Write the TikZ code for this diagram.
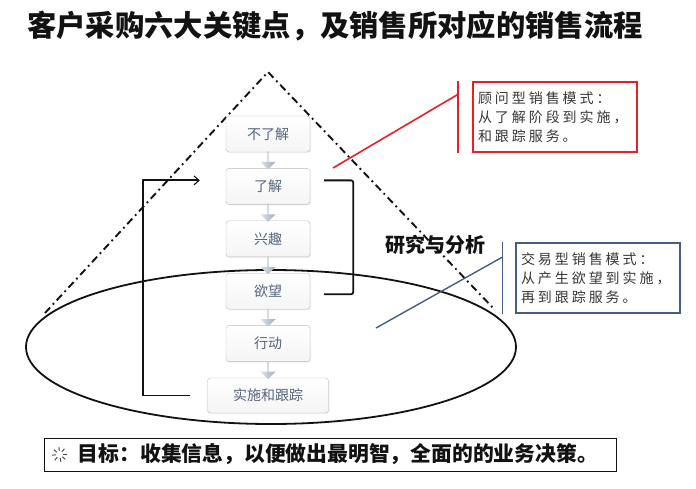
\documentclass[tikz,border=0pt]{standalone}
\usepackage{fontspec}
\setmainfont{Liberation Sans}
\newfontfamily\cjk{Noto Sans CJK SC}
\newfontfamily\cjkspaced[LetterSpace=21]{Noto Sans CJK SC}
\usepackage{tikz}
\usetikzlibrary{arrows.meta, positioning, shadows, shapes.arrows}
\usepackage{xcolor}
\definecolor{NoteRed}{RGB}{228, 32, 40}
\definecolor{NoteBlue}{RGB}{68, 94, 135}
\definecolor{StageText}{RGB}{84, 100, 128}
\definecolor{StageEdge}{RGB}{185, 185, 185}
\definecolor{ArrowTop}{RGB}{222, 226, 234}
\definecolor{ArrowBottom}{RGB}{160, 171, 196}
\definecolor{RichBlack}{RGB}{18, 18, 18}
\tikzset{%
  title_text/.style={%
    font={\cjk\bfseries\fontsize{29.3}{32}\selectfont},%
    color=RichBlack,%
    inner sep=0pt%
  },
  stage_block/.style={%
    draw=StageEdge,%
    rectangle,%
    rounded corners=3pt,%
    top color=white,%
    bottom color=gray!8,%
    drop shadow={opacity=0.12, shadow xshift=1pt, shadow yshift=-1pt},%
    minimum width=84pt,%
    minimum height=36pt,%
    inner sep=1pt,%
    text=StageText,%
    font={\cjk\fontsize{14}{16}\selectfont},%
    align=center%
  },
  stage_arrow/.style={%
    single arrow,%
    rotate=-90,%
    draw=none,%
    left color=ArrowTop,%
    right color=ArrowBottom,%
    minimum height=18pt,%
    minimum width=15pt,%
    single arrow head extend=2.5pt,%
    single arrow head indent=0pt,%
    inner sep=0pt%
  },
  funnel_path/.style={%
    color=RichBlack,%
    line width=1.9pt,%
    dash pattern=on 7.5pt off 4pt on 1.8pt off 4pt%
  },
  ring_path/.style={%
    color=RichBlack,%
    line width=1.8pt%
  },
  smooth_path/.style={%
    color=RichBlack,%
    line join=round,%
    rounded corners=2pt,%
    line width=1.8pt%
  },
  arrow/.style={-{Straight Barb[length=5pt, width=9pt, line width=1.1pt]}},
  callout_note/.style={%
    rectangle,%
    line width=1.6pt,%
    minimum width=164pt,%
    minimum height=70pt,%
    inner xsep=5pt,%
    text width=154pt,%
    align=left,%
    text=RichBlack!85,%
    font={\cjkspaced\fontsize{14}{19}\selectfont}%
  },
  callout_red/.style={%
    draw=NoteRed,%
    line width=1.6pt%
  },
  callout_blue/.style={%
    draw=NoteBlue,%
    line width=1.4pt%
  },
  annotate/.style={%
    font={\cjk\bfseries\fontsize{20}{22}\selectfont},%
    color=RichBlack,%
    inner sep=0pt%
  },
  goal_box/.style={%
    draw=RichBlack,%
    rectangle,%
    line width=0.8pt,%
    minimum width=572pt,%
    minimum height=33pt%
  },
  goal_text/.style={%
    font={\cjk\bfseries\fontsize{20.8}{22}\selectfont},%
    color=RichBlack,%
    inner sep=0pt%
  },
  sparkle_path/.style={%
    color=RichBlack!80,%
    line width=0.9pt%
  },
}

\begin{document}
\begin{tikzpicture}[x=1pt, y=-1pt]
    \useasboundingbox (0, 0) rectangle (696, 489);

    \node [title_text] (Title) at (335, 26) {%
      客户采购六大关键点，及销售所对应的销售流程%
    };

    % funnel and ring
    \coordinate (Apex) at (268, 72);
    \coordinate (LeftFoot) at (45, 313);
    \coordinate (RightFoot) at (495, 310);
    \draw [funnel_path] (LeftFoot) -- (Apex) -- (RightFoot);
    \draw [ring_path] (271, 347) ellipse [x radius=245, y radius=77];

    % stages
    \node [stage_block] (Unaware) at (268, 134) {不了解};
    \node [stage_block, below = 16pt of Unaware] (Aware) {了解};
    \node [stage_block, below = 16pt of Aware] (Interest) {兴趣};
    \node [stage_block, below = 16pt of Interest] (Desire) {欲望};
    \node [stage_block, below = 16pt of Desire] (Action) {行动};
    \node [stage_block, minimum width=121pt, minimum height=35pt,
      below = 16pt of Action] (Follow) {实施和跟踪};

    \path (Unaware.south) -- (Aware.north) node [midway, stage_arrow] {};
    \path (Aware.south) -- (Interest.north) node [midway, stage_arrow] {};
    \path (Interest.south) -- (Desire.north) node [midway, stage_arrow] {};
    \path (Desire.south) -- (Action.north) node [midway, stage_arrow] {};
    \path (Action.south) -- (Follow.north) node [midway, stage_arrow] {};

    \draw [smooth_path]
      ([shift={(14pt, 6pt)}]Aware.east)
      -|
      ([shift={(43pt, -3pt)}]Desire.east)
      --
      ([shift={(14pt, -3pt)}]Desire.east);
    \draw [arrow, smooth_path, rounded corners=0pt]
      ([xshift=-17pt]Follow.west)
      --
      ++(-47, 0)
      |-
      ([shift={(-26pt, 6pt)}]Aware.west);

    \node [annotate] (Analysis) at (435, 245) {研究与分析};

    % callouts
    \node [callout_note, draw=NoteRed] (AdvisoryNote) at (555, 117) {%
      顾问型销售模式：\\从了解阶段到实施，\\和跟踪服务。%
    };
    \coordinate (AdvisoryTip) at (333, 168);
    \draw [callout_red]
      ([xshift=-14pt]AdvisoryNote.north west)
      --
      ([xshift=-14pt]AdvisoryNote.south west);
    \draw [callout_red]
      ([shift={(-14pt, -13pt)}]AdvisoryNote.north west)
      --
      (AdvisoryTip);

    \node [callout_note, draw=NoteBlue] (TradeNote) at (598, 278) {%
      交易型销售模式：\\从产生欲望到实施，\\再到跟踪服务。%
    };
    \coordinate (TradeTip) at (376, 328);
    \draw [callout_blue]
      ([xshift=-13pt]TradeNote.north west)
      --
      ([xshift=-13pt]TradeNote.south west);
    \draw [callout_blue]
      ([shift={(-13pt, -15pt)}]TradeNote.north west)
      --
      (TradeTip);

    % goal
    \node [goal_box] (Goal) at (330, 454.5) {};
    \node [goal_text, anchor=west] (GoalText) at ([xshift=34pt]Goal.west) {%
      目标：收集信息，以便做出最明智，全面的的业务决策。%
    };
    \coordinate (Spark) at ([xshift=16pt]Goal.west);
    \foreach \a in {0, 40, 80, 130, 175, 220, 265, 310}
      \draw [sparkle_path, shift={(Spark)}] (\a:3.5) -- (\a:7.5);
  \end{tikzpicture}
\end{document}
